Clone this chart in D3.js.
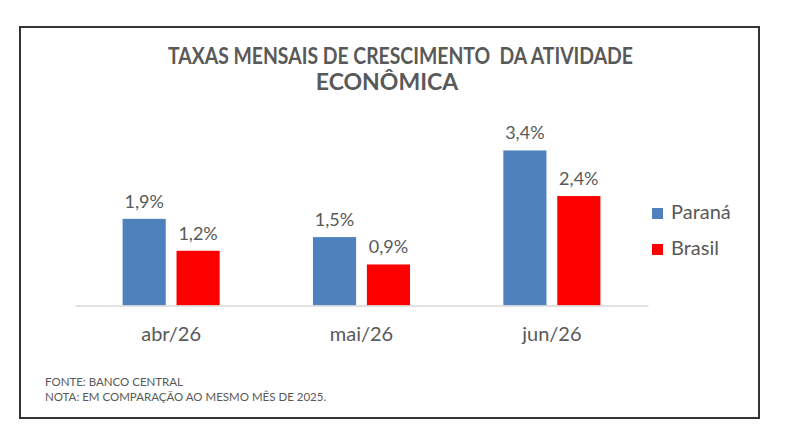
<!DOCTYPE html>
<html>
<head>
<meta charset="utf-8">
<script src="https://cdn.jsdelivr.net/npm/d3@7"></script>
<style>
  html, body { margin: 0; padding: 0; background: #fff; }
  svg { display: block; font-family: Lato, "Open Sans", sans-serif; }
</style>
</head>
<body>
<div id="app"></div>
<script>
const months = ["abr/26", "mai/26", "jun/26"]
const series = ["Paraná", "Brasil"]
const parana = [1.9, 1.5, 3.4]
const brasil = [1.2, 0.9, 2.4]
const titleLines = ["TAXAS MENSAIS DE CRESCIMENTO  DA ATIVIDADE", "ECONÔMICA"]
const notes = ["FONTE: BANCO CENTRAL", "NOTA: EM COMPARAÇÃO AO MESMO MÊS DE 2025."]

const colors = {"Paraná": "#4f81bd", "Brasil": "#ff0000"}
const textColor = "#595959"

const width = 800, height = 445
const baseY = 305.5

const rows = months.map((m, i) => ({month: m, "Paraná": parana[i], "Brasil": brasil[i]}))
const fmt = v => d3.format(".1f")(v).replace(".", ",") + "%"

const svg = d3.select("#app").append("svg")
    .attr("width", width)
    .attr("height", height)

// frame
svg.append("rect")
    .attr("x", 20).attr("y", 27)
    .attr("width", 739).attr("height", 391)
    .attr("fill", "#fff")
    .attr("stroke", "#333")
    .attr("stroke-width", 2)

// title (first line squeezed to the narrow width of the original font)
svg.append("text")
    .attr("x", 168).attr("y", 64)
    .attr("font-size", 23).attr("font-weight", 700)
    .attr("fill", textColor)
    .attr("xml:space", "preserve")
    .attr("textLength", 465)
    .attr("lengthAdjust", "spacingAndGlyphs")
    .text(titleLines[0])
svg.append("text")
    .attr("x", 387).attr("y", 90)
    .attr("text-anchor", "middle")
    .attr("font-size", 23).attr("font-weight", 700)
    .attr("fill", textColor)
    .text(titleLines[1])

const x = d3.scaleBand()
    .domain(months)
    .range([75, 648])
    .paddingInner(0.49)
    .paddingOuter(0.25)

const xs = d3.scaleBand()
    .domain(series)
    .range([0, x.bandwidth()])
    .paddingInner(0.2)

const y = d3.scaleLinear()
    .domain([0, 4])
    .range([baseY, baseY - 4 * 45.6])

const groups = svg.append("g").selectAll("g")
    .data(rows)
    .join("g")
    .attr("transform", d => `translate(${x(d.month)},0)`)

groups.selectAll("rect")
    .data(d => series.map(s => ({s, v: d[s]})))
    .join("rect")
    .attr("x", d => xs(d.s))
    .attr("y", d => y(d.v))
    .attr("width", xs.bandwidth())
    .attr("height", d => y(0) - y(d.v))
    .attr("fill", d => colors[d.s])

groups.selectAll("text")
    .data(d => series.map(s => ({s, v: d[s]})))
    .join("text")
    .attr("x", d => xs(d.s) + xs.bandwidth() / 2)
    .attr("y", d => y(d.v) - 11)
    .attr("text-anchor", "middle")
    .attr("font-size", 18)
    .attr("fill", textColor)
    .text(d => fmt(d.v))

// category axis
const axis = svg.append("g")
    .attr("transform", `translate(0,${baseY})`)
    .call(d3.axisBottom(x).tickSize(0).tickPadding(20.8))
axis.select(".domain").attr("stroke", "#d9d9d9").attr("stroke-width", 1.5)
axis.selectAll("text")
    .attr("font-size", 20)
    .attr("font-family", "Lato, 'Open Sans', sans-serif")
    .attr("fill", textColor)

// legend
const legend = svg.append("g").selectAll("g")
    .data(series)
    .join("g")
    .attr("transform", (d, i) => `translate(652,${208 + i * 36})`)
legend.append("rect")
    .attr("width", 11).attr("height", 11)
    .attr("fill", d => colors[d])
legend.append("text")
    .attr("x", 19).attr("y", 11)
    .attr("font-size", 20)
    .attr("fill", textColor)
    .text(d => d)

// notes
svg.append("g").selectAll("text")
    .data(notes)
    .join("text")
    .attr("x", 45)
    .attr("y", (d, i) => 386 + i * 15)
    .attr("font-size", 11.5)
    .attr("fill", textColor)
    .text(d => d)
</script>
</body>
</html>
